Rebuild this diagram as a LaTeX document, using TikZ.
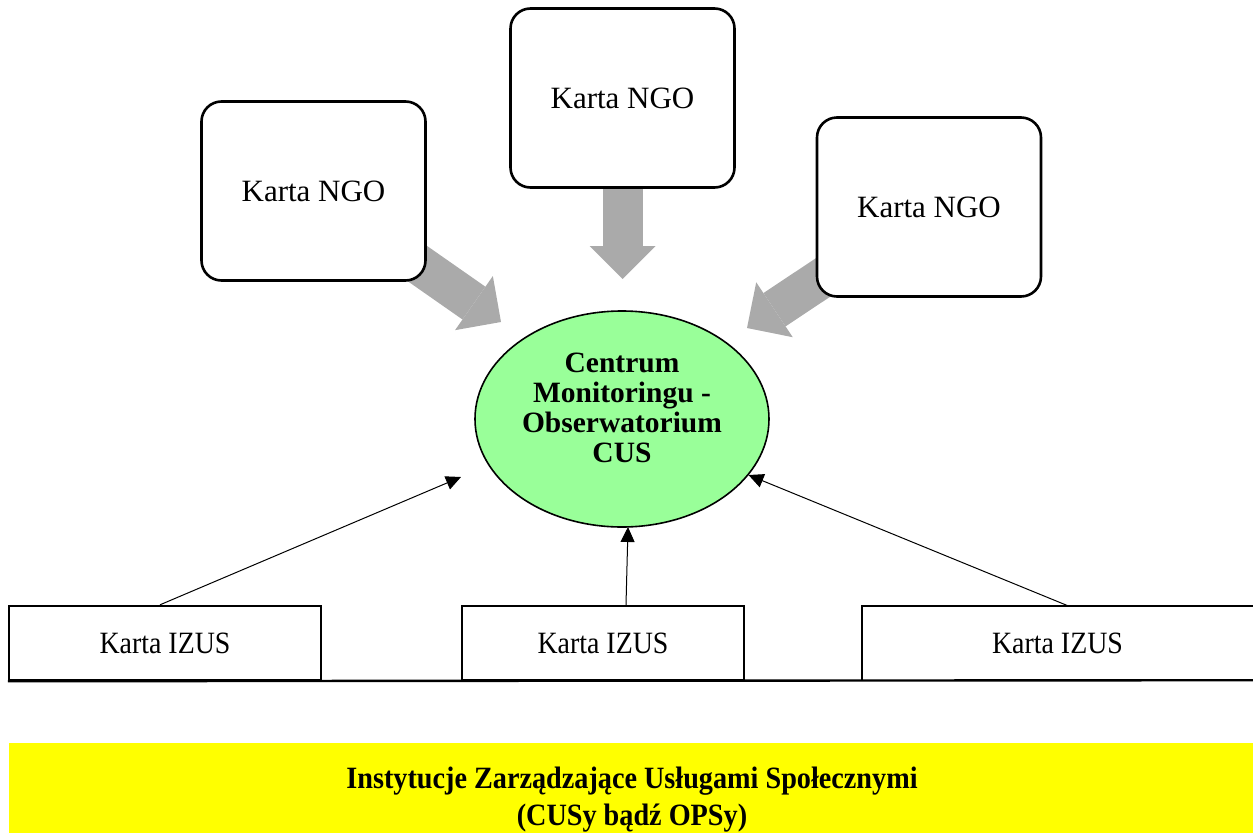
\documentclass[tikz,border=0pt]{standalone}
\usepackage{fontspec}
\setmainfont{Liberation Serif}
\usetikzlibrary{arrows.meta,shapes.geometric,backgrounds}
\definecolor{cmgreen}{RGB}{153,255,153}
\definecolor{blockgray}{RGB}{170,170,170}
\definecolor{instyellow}{RGB}{255,255,0}
\tikzset{
  ngobox/.style={draw, line width=2.6pt, rounded corners=20pt, fill=white,
    minimum width=224pt, minimum height=179pt, inner sep=0pt,
    font=\fontsize{31}{36}\selectfont},
  izusbox/.style={minimum height=74pt, inner sep=0pt,
    font=\fontsize{31}{36}\selectfont},
  boxline/.style={line width=2.4pt},
  blockarrow/.style={draw=blockgray, line width=40pt,
    -{Triangle[width=66pt,length=33pt,line width=0pt]}},
  thinarrow/.style={line width=1pt, -{Triangle[width=14pt,length=15pt]}},
}
\begin{document}
\begin{tikzpicture}[x=1pt,y=-1pt]
\useasboundingbox (0,0) rectangle (1253,833);

% NGO boxes
\node[ngobox] (ngo1) at (313.5,191) {Karta NGO};
\node[ngobox] (ngo2) at (622.5,98) {Karta NGO};
\node[ngobox] (ngo3) at (929,207) {Karta NGO};

% tip points of the block arrows
\coordinate (t1) at (501,322);
\coordinate (t2) at (622.5,279);
\coordinate (t3) at (747,328);

\begin{scope}[on background layer]
  \draw[blockarrow] (ngo1.center) -- (t1);
  \draw[blockarrow] (ngo2.center) -- (t2);
  \draw[blockarrow] (ngo3.center) -- (t3);
\end{scope}

% central ellipse
\node[ellipse, draw, fill=cmgreen, line width=1.6pt, minimum width=294pt,
  minimum height=216pt, inner sep=0pt] (cm) at (622,419) {};
\node[align=center, inner sep=0pt, font=\fontsize{29.5}{30}\selectfont\bfseries]
  (cmtext) at (622,408) {Centrum\\Monitoringu -\\Obserwatorium\\CUS};

% IZUS boxes
\node[izusbox, draw, boxline, minimum width=312pt] (i1) at (165,643)
  {\scalebox{0.9}[1]{Karta IZUS}};
\node[izusbox, draw, boxline, minimum width=282pt] (i2) at (603,643)
  {\scalebox{0.9}[1]{Karta IZUS}};
\node[izusbox, minimum width=391pt] (i3) at (1057.5,643)
  {\scalebox{0.9}[1]{Karta IZUS}};
\draw[boxline] (i3.north east) -- (i3.north west) -- (i3.south west);
\draw[boxline] (i1.south west) -- (i3.south east);

% thin arrows
\coordinate (a1) at (461,477);
\coordinate (a2) at (628,527);
\coordinate (a3) at (748.5,475);
\draw[thinarrow] ([xshift=-5pt]i1.north) -- (a1);
\draw[thinarrow] ([xshift=23pt]i2.north) -- (a2);
\draw[thinarrow] ([xshift=10.5pt]i3.north) -- (a3);

% institutions band
\node[fill=instyellow, minimum width=1244pt, minimum height=90pt,
  inner sep=0pt, anchor=north west] (inst) at (9,743) {};
\node[align=center, inner sep=0pt, font=\fontsize{31}{37}\selectfont\bfseries]
  (insttext) at (632,799.5)
  {\scalebox{0.91}[1]{Instytucje Zarządzające Usługami Społecznymi}\\
   \scalebox{0.91}[1]{(CUSy bądź OPSy)}};
\end{tikzpicture}
\end{document}
